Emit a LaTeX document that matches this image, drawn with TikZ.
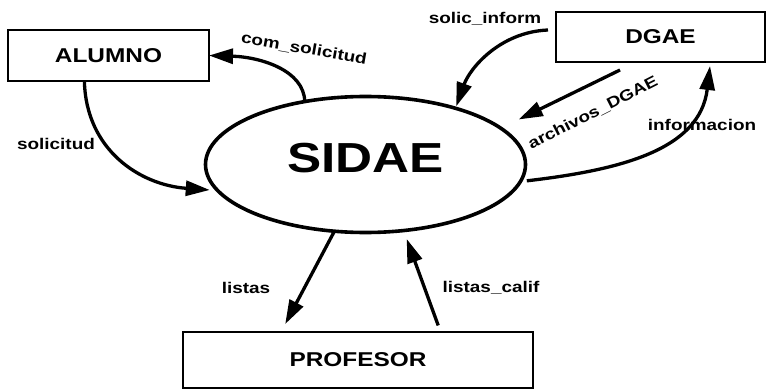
\documentclass[tikz,border=0pt]{standalone}
\usepackage{fontspec}
\setmainfont{Liberation Sans}[FakeStretch=1.22]
\usetikzlibrary{arrows.meta,shapes.geometric,calc}

\tikzset{
  entity/.style={draw, line width=2.2pt, inner sep=0pt, outer sep=0pt,
    font=\fontsize{20}{24}\selectfont\bfseries},
  proc/.style={ellipse, draw, line width=3.6pt, inner sep=0pt, outer sep=0pt,
    minimum width=320pt, minimum height=136pt, text depth=13pt,
    font=\fontsize{42}{48}\selectfont\bfseries},
  flow/.style={line width=3.3pt, -{Triangle[length=24pt,width=15pt]}},
  lbl/.style={inner sep=0pt, font=\fontsize{15.5}{18}\selectfont\bfseries}
}

\begin{document}
\begin{tikzpicture}[x=1pt, y=-1pt]
  \useasboundingbox (0,0) rectangle (767,390);

  % external entities and the central process
  \node[entity, minimum width=201pt, minimum height=51pt] (alumno) at (108.5,55.5) {ALUMNO};
  \node[entity, minimum width=209pt, minimum height=50pt] (dgae) at (660.5,37) {DGAE};
  \node[entity, minimum width=350pt, minimum height=56pt] (profesor) at (358,360) {PROFESOR};
  \node[proc] (sidae) at (365.5,164.5) {SIDAE};

  % data flows
  \draw[flow, shorten >=8pt]
    ($(alumno.south west)!0.38!(alumno.south east)$)
    .. controls (86,150) and (140,185) .. (sidae.190);
  \draw[flow]
    (sidae.134) .. controls (304,70) and (260,57) .. (alumno.east);
  \draw[flow, shorten >=2pt]
    ([shift={(-8pt,7pt)}]dgae.west) .. controls (500,32) and (470,68) .. (sidae.32);
  \draw[flow, shorten >=20pt]
    ([shift={(64pt,-8pt)}]dgae.south west) -- (sidae.15);
  \draw[flow]
    ([xshift=6pt]sidae.-6) .. controls (620,170) and (700,150) .. ([shift={(154pt,-4pt)}]dgae.south west);
  \draw[flow, shorten >=9pt]
    (sidae.-115) -- ($(profesor.north west)!0.28!(profesor.north east)$);
  \draw[flow, shorten <=7pt, shorten >=9pt]
    ($(profesor.north west)!0.736!(profesor.north east)$) -- (sidae.-60);

  % flow labels
  \node[lbl, rotate=-10] (lcom) at (304,49) {com\_solicitud};
  \node[lbl] (lsol) at (56,144) {solicitud};
  \node[lbl] (linf) at (485,19) {solic\_inform};
  \node[lbl, rotate=27] (larc) at (593,113) {archivos\_DGAE};
  \node[lbl] (linfo) at (702,125) {informacion};
  \node[lbl] (llis) at (246,288) {listas};
  \node[lbl] (lcal) at (491,288) {listas\_calif};
\end{tikzpicture}
\end{document}
